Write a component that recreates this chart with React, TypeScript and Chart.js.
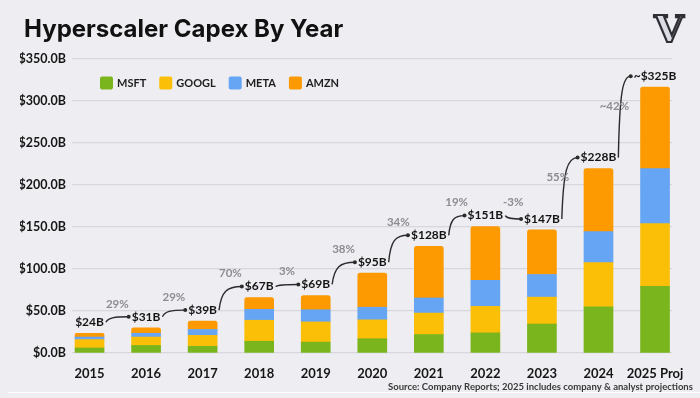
import React, { useEffect, useRef } from 'react';
import { Chart, registerables } from 'chart.js';
Chart.register(...registerables);

const years = ['2015', '2016', '2017', '2018', '2019', '2020', '2021', '2022', '2023', '2024', '2025 Proj'];
const msft = [6, 9, 8, 14, 13, 17, 22, 24, 34.5, 55, 79.5];
const googl = [10, 10, 13, 25, 24, 22.5, 25.5, 31.5, 32, 52.5, 74.5];
const meta = [3, 4.5, 7, 13, 14.5, 15, 18, 31, 27, 37, 65.5];
const amzn = [4.5, 6.5, 10, 14, 17, 40.5, 61.5, 64, 53, 75, 97];
const totalLabels = ['$24B', '$31B', '$39B', '$67B', '$69B', '$95B', '$128B', '$151B', '$147B', '$228B', '~$325B'];
const growthLabels = ['29%', '29%', '70%', '3%', '38%', '34%', '19%', '-3%', '55%', '~42%'];
const yTicks = [0, 50, 100, 150, 200, 250, 300, 350];

const seriesNames = ['MSFT', 'GOOGL', 'META', 'AMZN'];
const seriesColors = ['#7ab51d', '#fcbf07', '#65a5f4', '#fd9a02'];

const FONT = 'Lato, "Open Sans", sans-serif';
const TITLE_FONT = 'Inter, "Open Sans", sans-serif';
const BG = '#ededf2';

export default function App() {
  const ref = useRef<HTMLCanvasElement>(null);

  useEffect(() => {
    const canvas = ref.current!;
    const series = [msft, googl, meta, amzn];

    const overlay = {
      id: 'overlay',
      beforeDraw(chart: any) {
        const { ctx, width, height } = chart;
        ctx.save();
        ctx.fillStyle = BG;
        ctx.fillRect(0, 0, width, height);
        ctx.restore();
      },
      afterDatasetsDraw(chart: any) {
        const { ctx } = chart;
        const xs = chart.scales.x;
        const ys = chart.scales.y;
        ctx.save();
        ctx.font = `bold 12px ${FONT}`;
        ctx.textAlign = 'center';
        ctx.textBaseline = 'middle';
        const pts = years.map((_, i) => {
          const total = msft[i] + googl[i] + meta[i] + amzn[i];
          const x = xs.getPixelForValue(i);
          const y = ys.getPixelForValue(total) - 11;
          const w = ctx.measureText(totalLabels[i]).width;
          return { x, y, w };
        });
        ctx.strokeStyle = '#2b2b2b';
        ctx.fillStyle = '#2b2b2b';
        ctx.lineWidth = 1.4;
        for (let i = 0; i < pts.length - 1; i++) {
          const a = pts[i];
          const b = pts[i + 1];
          const x1 = a.x + a.w / 2 + 2;
          const y1 = a.y;
          const x2 = b.x - b.w / 2 - 3;
          const y2 = b.y;
          const dx = x2 - x1;
          ctx.beginPath();
          ctx.moveTo(x1, y1);
          ctx.bezierCurveTo(x1 + 0.1 * dx, y1 + 0.8 * (y2 - y1), x1 + 0.35 * dx, y2, x2, y2);
          ctx.stroke();
          ctx.beginPath();
          ctx.arc(x2, y2, 2, 0, Math.PI * 2);
          ctx.fill();
          const rise = y1 - y2;
          let gx: number;
          let gy: number;
          if (rise > 40) {
            gx = x1 - 4;
            gy = (y1 + y2) / 2 - 11;
          } else {
            gx = (x1 + x2) / 2;
            gy = Math.min(y1, y2) - 13;
          }
          ctx.save();
          ctx.font = `bold 11.5px ${FONT}`;
          ctx.fillStyle = '#8d8d91';
          ctx.fillText(growthLabels[i], gx, gy);
          ctx.restore();
        }
        ctx.fillStyle = '#141414';
        pts.forEach((p, i) => {
          ctx.fillText(totalLabels[i], p.x, p.y);
        });
        ctx.restore();
      },
      afterDraw(chart: any) {
        const { ctx, chartArea, width } = chart;
        ctx.save();
        ctx.fillStyle = '#111111';
        ctx.font = `bold 24px ${TITLE_FONT}`;
        ctx.textAlign = 'left';
        ctx.textBaseline = 'alphabetic';
        ctx.fillText('Hyperscaler Capex By Year', 24, 37);
        ctx.font = `bold 11px ${FONT}`;
        ctx.textBaseline = 'middle';
        let lx = chartArea.left + 28;
        const ly = chartArea.top + 24;
        seriesNames.forEach((name, i) => {
          ctx.fillStyle = seriesColors[i];
          ctx.beginPath();
          (ctx as any).roundRect(lx, ly - 6.5, 13, 13, 2);
          ctx.fill();
          ctx.fillStyle = '#1e1e1e';
          ctx.fillText(name, lx + 17, ly + 0.5);
          lx += 17 + ctx.measureText(name).width + 13;
        });
        ctx.font = `bold 9.5px ${FONT}`;
        ctx.fillStyle = '#3a3a3a';
        ctx.fillText('Source: Company Reports; 2025 includes company & analyst projections', 388, 387);
        ctx.strokeStyle = 'rgba(255,255,255,0.9)';
        ctx.lineWidth = 1;
        ctx.beginPath();
        ctx.moveTo(8, 392.5);
        ctx.lineTo(width, 392.5);
        ctx.stroke();
        ctx.font = `bold 38px "DejaVu Serif", serif`;
        ctx.textAlign = 'center';
        ctx.textBaseline = 'alphabetic';
        ctx.lineWidth = 2.2;
        ctx.strokeStyle = '#2f2f35';
        ctx.fillStyle = '#dcdce4';
        ctx.fillText('V', 669, 42);
        ctx.strokeText('V', 669, 42);
        ctx.restore();
      },
    };

    const chart = new Chart(canvas, {
      type: 'bar',
      data: {
        datasets: series.map((vals, si) => ({
          label: seriesNames[si],
          data: vals.map((v, i) => ({ x: i, y: v })),
          backgroundColor: seriesColors[si],
          barThickness: 29,
          borderRadius: si === 3 ? { topLeft: 2.5, topRight: 2.5, bottomLeft: 0, bottomRight: 0 } : 0,
          borderSkipped: false,
        })),
      },
      options: {
        responsive: false,
        animation: false,
        layout: { padding: { left: 20, right: 28, top: 59, bottom: 0 } },
        plugins: {
          legend: { display: false },
          tooltip: { enabled: false },
          title: { display: false },
        },
        scales: {
          x: {
            type: 'linear',
            stacked: true,
            offset: false,
            min: -0.31,
            max: 10.3,
            grid: { display: false, offset: false },
            border: { display: false },
            afterBuildTicks: (scale: any) => {
              scale.ticks = years.map((_, i) => ({ value: i }));
            },
            afterFit: (scale: any) => {
              scale.height = 45;
            },
            ticks: {
              autoSkip: false,
              maxRotation: 0,
              padding: 5,
              color: '#161616',
              font: { family: FONT, size: 13, weight: 'bold' },
              callback: (v: any) => years[v as number] ?? '',
            },
          },
          y: {
            stacked: true,
            min: 0,
            max: 350,
            afterBuildTicks: (scale: any) => {
              scale.ticks = yTicks.map((v) => ({ value: v }));
            },
            afterFit: (scale: any) => {
              scale.width = 52;
            },
            grid: { color: '#d7d7dd', lineWidth: 1.2, drawTicks: false },
            border: { display: false },
            ticks: {
              padding: 6,
              color: '#161616',
              font: { family: FONT, size: 12.5, weight: 'bold' },
              callback: (v: any) => '$' + Number(v).toFixed(1) + 'B',
            },
          },
        },
      },
      plugins: [overlay],
    } as any);

    return () => chart.destroy();
  }, []);

  return (
    <div style={{ position: 'fixed', left: 0, top: 0, width: 700, height: 398, background: BG }}>
      <canvas ref={ref} width={700} height={398} style={{ display: 'block', width: 700, height: 398 }} />
    </div>
  );
}
